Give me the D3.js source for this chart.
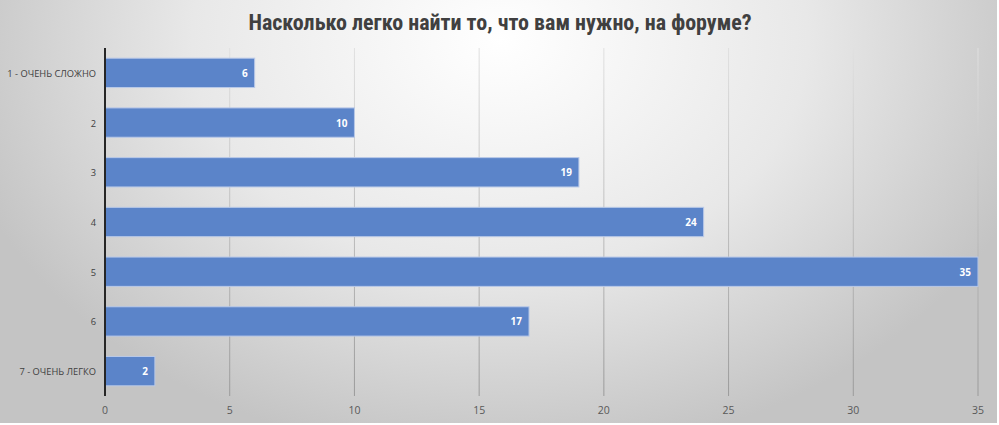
<!DOCTYPE html>
<html><head><meta charset="utf-8">
<script src="https://cdn.jsdelivr.net/npm/d3@7"></script>
<style>body{margin:0;background:#fff}svg{display:block}</style>
</head><body><svg id="c" width="999" height="425"></svg>
<script>
const title = "Насколько легко найти то, что вам нужно, на форуме?";
const categories = ["1 - ОЧЕНЬ СЛОЖНО","2","3","4","5","6","7 - ОЧЕНЬ ЛЕГКО"];
const values = [6,10,19,24,35,17,2];
const xTicks = [0,5,10,15,20,25,30,35];

const svg = d3.select("#c");
const defs = svg.append("defs");
const rg = defs.append("radialGradient").attr("id","bg").attr("gradientUnits","userSpaceOnUse")
  .attr("cx",500).attr("cy",40).attr("r",560).attr("gradientTransform","translate(500,40) scale(1,0.75) translate(-500,-40)");
rg.append("stop").attr("offset","0").attr("stop-color","#ffffff");
rg.append("stop").attr("offset","0.55").attr("stop-color","#e8e8e8");
rg.append("stop").attr("offset","1").attr("stop-color","#c4c4c4");
const gg = defs.append("linearGradient").attr("id","grid").attr("x1",0).attr("y1",0).attr("x2",0).attr("y2",1);
gg.append("stop").attr("offset","0").attr("stop-color","#e0e0e0");
gg.append("stop").attr("offset","1").attr("stop-color","#9a9a9a");

svg.append("rect").attr("x",0).attr("y",0).attr("width",997).attr("height",423).attr("fill","url(#bg)");

const x = d3.scaleLinear().domain([0,35]).range([105,978]);
const y = d3.scaleBand().domain(categories).range([48,396]).paddingInner(0.41).paddingOuter(0.205);

svg.append("text").attr("x",500).attr("y",30).attr("text-anchor","middle")
  .attr("font-family","Roboto Condensed, Roboto, sans-serif").attr("font-weight","bold").attr("font-size",22)
  .attr("fill","#404040").text(title);

// gridlines
svg.append("g").selectAll("rect").data(xTicks.slice(1)).join("rect")
  .attr("x",d=>x(d)-0.5).attr("y",48).attr("width",1).attr("height",348).attr("fill","url(#grid)");

// bars
svg.append("g").selectAll("rect").data(values).join("rect")
  .attr("x",x(0)).attr("y",(d,i)=>y(categories[i])).attr("width",d=>x(d)-x(0)).attr("height",y.bandwidth())
  .attr("fill","#5b84c9").attr("stroke","#b9c9e8").attr("stroke-width",1);

// value labels
svg.append("g").selectAll("text").data(values).join("text")
  .attr("x",d=>x(d)-7).attr("y",(d,i)=>y(categories[i])+y.bandwidth()/2+4)
  .attr("text-anchor","end").attr("font-family","Open Sans, sans-serif").attr("font-weight","bold")
  .attr("font-size",10).attr("fill","#ffffff").text(d=>d);

// axis line
svg.append("line").attr("x1",x(0)).attr("x2",x(0)).attr("y1",48).attr("y2",396).attr("stroke","#262626").attr("stroke-width",2);

// x tick labels
svg.append("g").selectAll("text").data(xTicks).join("text")
  .attr("x",d=>x(d)).attr("y",414).attr("text-anchor","middle")
  .attr("font-family","Open Sans, sans-serif").attr("font-size",10.5).attr("fill","#595959").text(d=>d);

// category labels
svg.append("g").selectAll("text").data(categories).join("text")
  .attr("x",96).attr("y",d=>y(d)+y.bandwidth()/2+4).attr("text-anchor","end")
  .attr("font-family","Open Sans, sans-serif").attr("font-size",9.3).attr("fill","#404040").text(d=>d);
</script></body></html>
